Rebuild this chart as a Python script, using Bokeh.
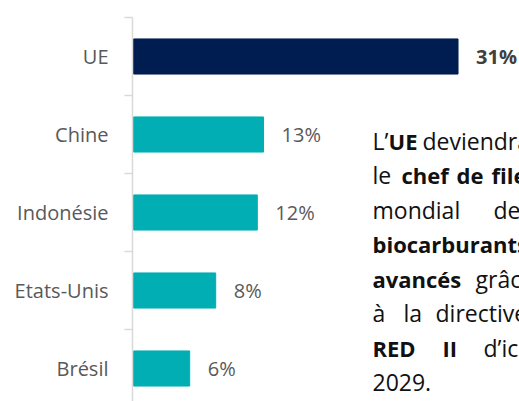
from bokeh.plotting import figure
from bokeh.models import Range1d, FixedTicker, ColumnDataSource
from bokeh.core.properties import value
from bokeh.embed import file_html
from bokeh.resources import INLINE

# ---- data ----
countries = ["UE", "Chine", "Indonésie", "Etats-Unis", "Brésil"]
shares = [31.2, 12.5, 11.9, 7.9, 5.4]
share_labels = ["31%", "13%", "12%", "8%", "6%"]

# ---- layout constants ----
W, H = 519, 401
FRAME_LEFT = 132          # frame left edge (axis line)
FRAME_TOP = 17            # top tick
BAND_PX = 78
PX_PER_UNIT = 10.4
frame_w = W - FRAME_LEFT
frame_h = H - FRAME_TOP
X_MIN = -0.1
X_MAX = X_MIN + frame_w / PX_PER_UNIT
y_bottom = frame_h / BAND_PX

NAVY = "#001d52"
TEAL = "#00aeb3"
bar_colors = [NAVY] + [TEAL] * (len(countries) - 1)
label_colors = ["#404040"] + ["#595959"] * (len(countries) - 1)
label_styles = ["bold"] + ["normal"] * (len(countries) - 1)

ypos = [i + 0.5 for i in range(len(countries))]
src = ColumnDataSource(dict(y=ypos, v=shares, lab=share_labels, col=bar_colors,
                            lcol=label_colors, lsty=label_styles))

p = figure(width=W, height=H, output_backend="svg", toolbar_location=None,
           x_range=Range1d(X_MIN, X_MAX), y_range=Range1d(y_bottom, 0),
           x_axis_location=None, min_border_left=FRAME_LEFT, min_border_right=0,
           min_border_top=FRAME_TOP, min_border_bottom=0)
p.outline_line_color = None
p.grid.visible = False
p.background_fill_color = "white"
p.border_fill_color = "white"

p.hbar(y="y", left=0, right="v", height=0.45, color="col", source=src)
p.text(x="v", y="y", text="lab", source=src, x_offset=18, text_align="left",
       text_baseline="middle", text_font=value("Open Sans"), text_font_size="20px",
       text_color="lcol", text_font_style="lsty")

ax = p.yaxis[0]
ax.ticker = FixedTicker(ticks=ypos, minor_ticks=list(range(len(countries) + 1)))
ax.major_label_overrides = {yv: c for yv, c in zip(ypos, countries)}
ax.axis_line_color = "#d9d9d9"
ax.axis_line_width = 1.5
ax.major_tick_out = 0
ax.major_tick_in = 0
ax.minor_tick_out = 8
ax.minor_tick_in = 0
ax.minor_tick_line_color = "#d9d9d9"
ax.minor_tick_line_width = 1.5
ax.major_label_standoff = 16
ax.major_label_text_font = "Open Sans"
ax.major_label_text_font_size = "20px"
ax.major_label_text_color = "#595959"

# ---- justified side note (word start positions in page pixels) ----
note_words = [
    [("L’", 372, "normal"), ("UE", 388, "bold"), ("deviendra", 422, "normal")],
    [("le", 372, "normal"), ("chef", 401, "bold"), ("de", 456, "bold"), ("file", 491, "bold")],
    [("mondial", 372, "normal"), ("des", 493, "normal")],
    [("biocarburants", 372, "bold")],
    [("avancés", 372, "bold"), ("grâce", 475, "normal")],
    [("à", 372, "normal"), ("la", 403, "normal"), ("directive", 435, "normal")],
    [("RED", 372, "bold"), ("II", 442, "bold"), ("d’ici", 483, "normal")],
    [("2029.", 372, "normal")],
]
FIRST_BASELINE = 140
LINE_STEP = 34.5
NOTE_SIZE = {"normal": "23px", "bold": "22px"}

def to_x(px):
    return X_MIN + (px - FRAME_LEFT) / PX_PER_UNIT

def to_y(py):
    return (py - FRAME_TOP) / BAND_PX

nx, ny, nt, ns, nz = [], [], [], [], []
for li, words in enumerate(note_words):
    base = FIRST_BASELINE + li * LINE_STEP
    for w, px, st in words:
        nx.append(to_x(px)); ny.append(to_y(base)); nt.append(w); ns.append(st)
        nz.append(NOTE_SIZE[st])
nsrc = ColumnDataSource(dict(x=nx, y=ny, t=nt, s=ns, z=nz))
p.text(x="x", y="y", text="t", source=nsrc, text_align="left",
       text_baseline="alphabetic", text_font=value("Open Sans"),
       text_font_size="z", text_color="#111111", text_font_style="s")

open("out.html", "w").write(file_html(p, INLINE))
